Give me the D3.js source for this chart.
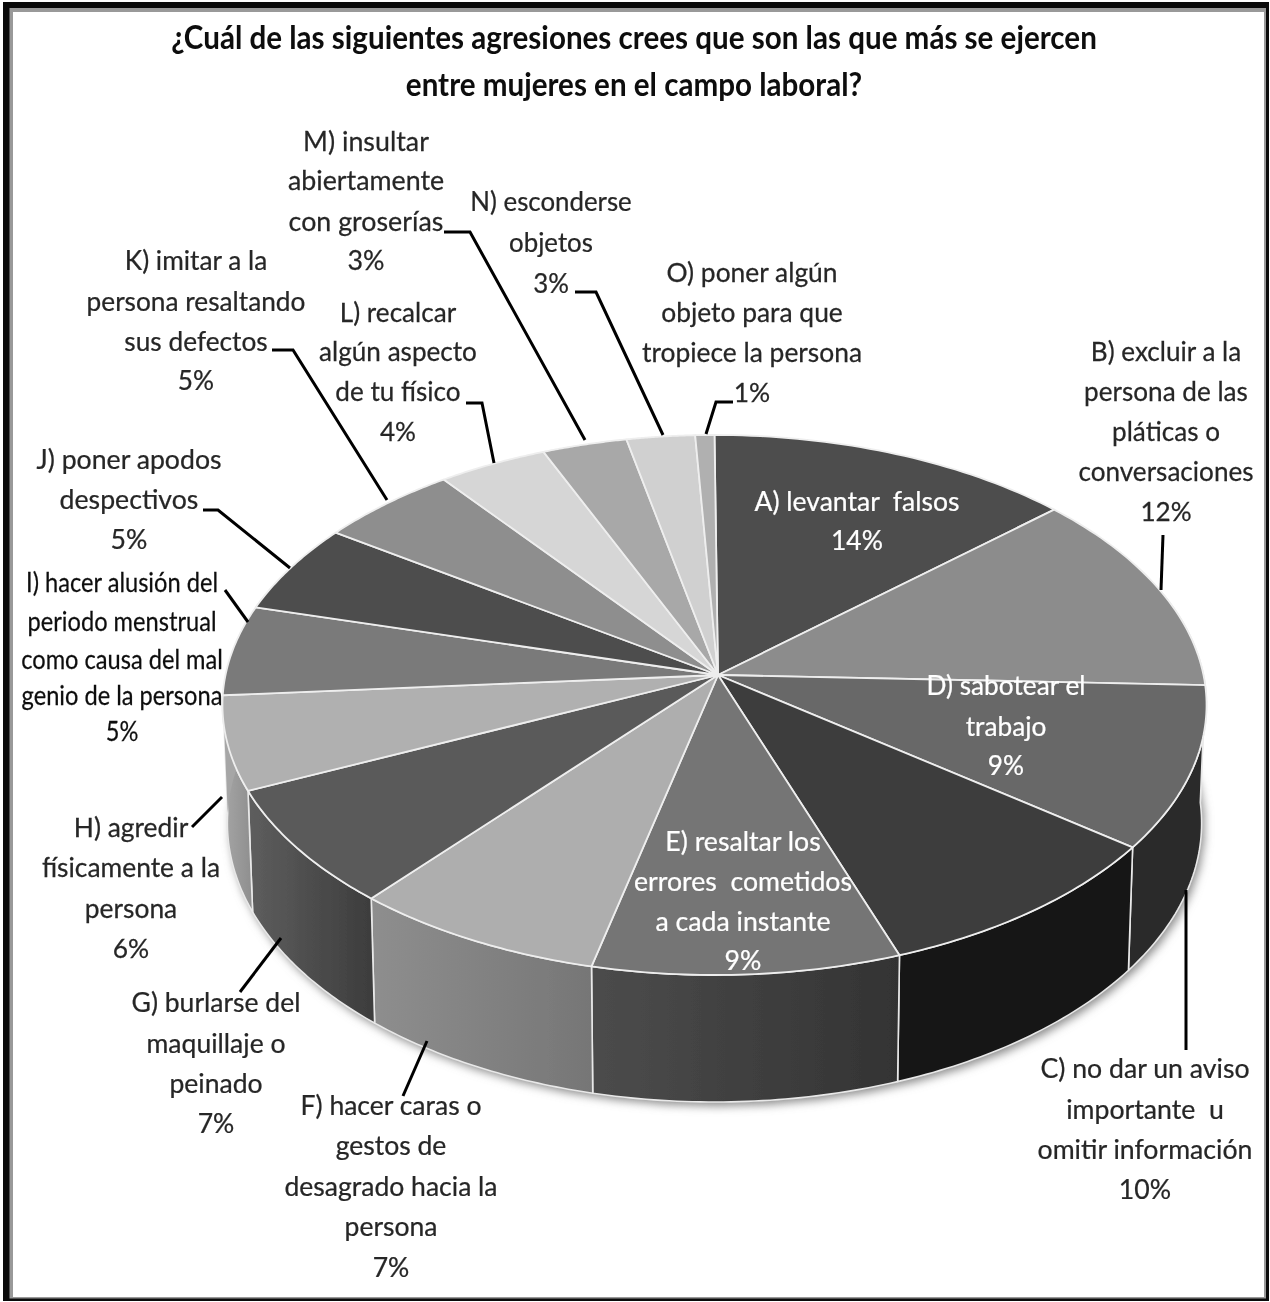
<!DOCTYPE html>
<html><head><meta charset="utf-8">
<script src="https://cdn.jsdelivr.net/npm/d3@7/dist/d3.min.js"></script>
<style>html,body{margin:0;padding:0;background:#fff}svg{display:block}text{font-family:Lato,"Open Sans",sans-serif}</style>
</head><body><svg id="c" width="1270" height="1302"></svg>
<script>
const titleLines = ["¿Cuál de las siguientes agresiones crees que son las que más se ejercen","entre mujeres en el campo laboral?"];
const categories = ["A","B","C","D","E","F","G","H","I","J","K","L","M","N","O"];
const shares = [13.4,12.2,9.7,9.2,9.1,7.5,7.1,5.6,5.4,5.4,5.1,4.0,3.1,2.5,0.7];
const topColors = ["#4d4d4d","#8c8c8c","#686868","#3e3e3e","#757575","#aeaeae","#5a5a5a","#b0b0b0","#7a7a7a","#4d4d4d","#8e8e8e","#d6d6d6","#a8a8a8","#d0d0d0","#b0b0b0"];
const sideFrom = ["#333","#5a5a5a","#2c2c2c","#181818","#4c4c4c","#8e8e8e","#5e5e5e","#a6a6a6","#a6a6a6","#333","#666","#999","#777","#999","#777"];
const sideTo   = ["#333","#3a3a3a","#2a2a2a","#181818","#333333","#767676","#3c3c3c","#8e8e8e","#a6a6a6","#333","#666","#999","#777","#999","#777"];
const labelLines = [
 ["A) levantar  falsos","14%"],
 ["B) excluir a la","persona de las","pláticas o","conversaciones","12%"],
 ["C) no dar un aviso","importante  u","omitir información","10%"],
 ["D) sabotear el","trabajo","9%"],
 ["E) resaltar los","errores  cometidos","a cada instante","9%"],
 ["F) hacer caras o","gestos de","desagrado hacia la","persona","7%"],
 ["G) burlarse del","maquillaje o","peinado","7%"],
 ["H) agredir","físicamente a la","persona","6%"],
 ["I) hacer alusión del","periodo menstrual","como causa del mal","genio de la persona","5%"],
 ["J) poner apodos","despectivos","5%"],
 ["K) imitar a la","persona resaltando","sus defectos","5%"],
 ["L) recalcar","algún aspecto","de tu físico","4%"],
 ["M) insultar","abiertamente","con groserías","3%"],
 ["N) esconderse","objetos","3%"],
 ["O) poner algún","objeto para que","tropiece la persona","1%"]
];
const labelCentreX = [857,1166,1145,1006,743,391,216,131,122,129,196,398,366,551,752];
const labelStretch = [.965,.95,.97,.955,.97,.965,.965,.96,.86,.97,.955,.95,.975,.94,.96];
const labelLineY = [
 [502,541],[352,392,432,472,512],[1069,1110,1150,1190],[686,727,766],[842,882,922,961],
 [1106,1146,1187,1227,1268],[1003,1044,1084,1124],[828,868,909,949],[583,622,660,696,732],
 [460,500,540],[261,302,342,381],[313,352,392,432],[142,181,222,261],[202,243,284],[273,313,353,393]
];
const labelIsWhite = [true,false,false,true,true,false,false,false,false,false,false,false,false,false,false];
const leaders = [
 [[444,232],[470,232],[585,440]],[[575,292],[596,292],[663,435]],[[733,402],[716,402],[706,434]],
 [[272,350],[293,350],[387,500]],[[466,403],[482,403],[494,463]],[[1163,535],[1161,590]],
 [[203,510],[218,510],[290,568]],[[225,590],[248,622]],[[192,827],[222,797]],
 [[240,992],[281,938]],[[403,1096],[427,1041]],[[1186,890],[1186,1050]]
];

const svg = d3.select("#c");
const defs = svg.append("defs");
defs.append("filter").attr("id","shadow").attr("x","-10%").attr("y","-10%").attr("width","120%").attr("height","120%")
  .append("feGaussianBlur").attr("stdDeviation",5);
defs.append("filter").attr("id","soft").attr("x","-5%").attr("y","-5%").attr("width","110%").attr("height","110%")
  .append("feGaussianBlur").attr("stdDeviation",0.5);

// frame
svg.append("rect").attr("x",3).attr("y",2).attr("width",1266).attr("height",1299).attr("fill","#0a0a0a");
svg.append("rect").attr("x",9.5).attr("y",8).attr("width",1256.5).attr("height",1290.5).attr("fill","#999");
svg.append("rect").attr("x",13).attr("y",12).attr("width",1251).attr("height",1285).attr("fill","#fff");

// projection of a unit-disc pie to the page (perspective)
const cx=714.5, apex=[718,675], persp=-1/9, ky=266.67, kx=489, bottomK=0.99;
function rim(t){
  const u=Math.sin(t), v=-Math.cos(t), w=1+persp*v;
  return [cx+kx*u/w, apex[1]+ky*v/w, v];
}
function low(t){
  const p=rim(t);
  return [cx+(p[0]-cx)*bottomK, p[1]+117+10*p[2]];
}
const line=d3.line();
const arcs=d3.pie().sort(null).startAngle(0).endAngle(2*Math.PI)(shares);
const samples=(a,b)=>d3.range(0,41).map(i=>d3.interpolateNumber(a,b)(i/40));

// drop shadow below the pie
const full=samples(Math.PI*0.4,Math.PI*1.6);
svg.append("path").attr("d",line(full.map(low).map(p=>[p[0]+3,p[1]+4]))+"Z").attr("fill","#8a8a8a").attr("filter","url(#shadow)");

const pie=svg.append("g").attr("filter","url(#soft)");
// sides
const loA=Math.PI*0.40, hiA=Math.PI*1.60;
arcs.forEach((d,i)=>{
  const a=Math.max(d.startAngle,loA), b=Math.min(d.endAngle,hiA);
  if(b<=a) return;
  const g=defs.append("linearGradient").attr("id","side"+i).attr("x1",1).attr("x2",0).attr("y1",0).attr("y2",0);
  g.append("stop").attr("offset",0).attr("stop-color",sideTo[i]);
  g.append("stop").attr("offset",1).attr("stop-color",sideFrom[i]);
  const s=samples(a,b);
  pie.append("path").attr("d",line(s.map(rim).map(p=>[p[0],p[1]]).concat(s.slice().reverse().map(low)))+"Z")
    .attr("fill",`url(#side${i})`).attr("stroke",i===8?"none":"#e8e8e8").attr("stroke-width",1.6).attr("stroke-linejoin","round");
});
// top faces
pie.selectAll("path.top").data(arcs).join("path").attr("class","top")
  .attr("d",d=>line([apex].concat(samples(d.startAngle,d.endAngle).map(rim).map(p=>[p[0],p[1]])))+"Z")
  .attr("fill",(d,i)=>topColors[i]).attr("stroke","#eee").attr("stroke-width",1.8).attr("stroke-linejoin","round");

// leaders
svg.append("g").selectAll("path").data(leaders).join("path").attr("d",d=>line(d))
  .attr("fill","none").attr("stroke","#000").attr("stroke-width",3);

// labels
const texts=svg.append("g").attr("filter","url(#soft)");
labelLines.forEach((ls,i)=>{
  ls.forEach((s,j)=>{
    const col=labelIsWhite[i]?"#fff":(i===8?"#111":"#262626");
    texts.append("text").attr("transform",`translate(${labelCentreX[i]},${labelLineY[i][j]+9}) scale(${labelStretch[i]},1)`)
      .attr("text-anchor","middle").attr("font-size",27.5)
      .attr("fill",col).attr("stroke",col).attr("stroke-width",0.25).style("white-space","pre").text(s);
  });
});
const titleY=[49,96];
titleLines.forEach((s,j)=>{
  texts.append("text").attr("transform",`translate(634,${titleY[j]}) scale(0.925,1)`).attr("text-anchor","middle")
    .attr("font-size",32).attr("font-weight",700).attr("fill","#0c0c0c").text(s);
});
</script></body></html>
